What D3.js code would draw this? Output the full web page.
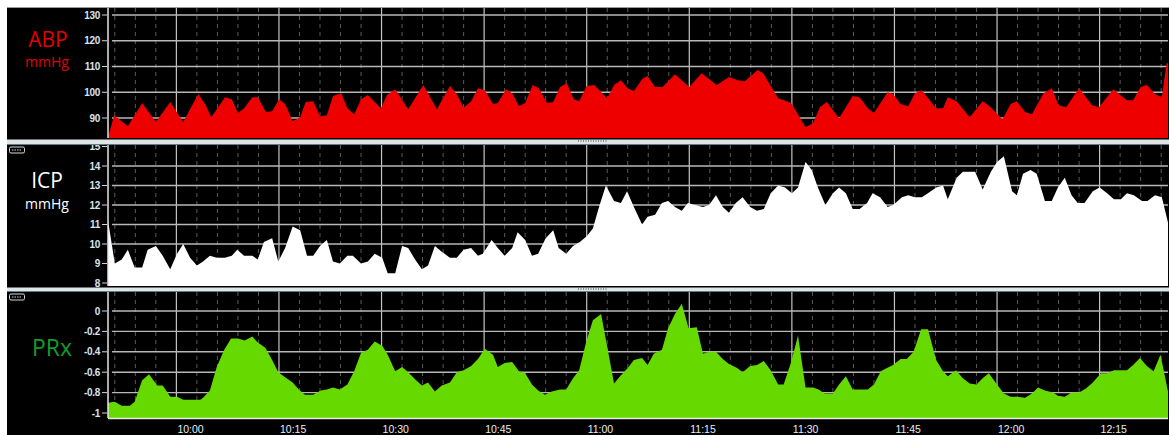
<!DOCTYPE html>
<html><head><meta charset="utf-8">
<script src="https://cdn.jsdelivr.net/npm/d3@7"></script>
<style>html,body{margin:0;padding:0;background:#fff;} svg{display:block;}</style>
</head><body>
<svg id="c" width="1169" height="435"></svg>
<script>
// ---- DATA (minutes after 09:50, value) ----
const startTime = "09:50", endTime = "12:25";
const timeTickLabels = ["10:00","10:15","10:30","10:45","11:00","11:15","11:30","11:45","12:00","12:15"];
const abpTicks = [90,100,110,120,130];
const abpGrid = [90,100,110,120,130];
const icpTicks = [8,9,10,11,12,13,14,15];
const icpGrid = [10,11,12,13,14];
const prxTicks = [-1,-0.8,-0.6,-0.4,-0.2,0];
const prxGrid = [-0.8,-0.6,-0.4,-0.2,0];

const abp = [[0,82.5],[0.9,91.1],[2.9,86.8],[5.0,95.8],[7.0,88.4],[9.1,96.2],[11.0,88.4],[13.2,99.3],[14.3,95],[15.1,90.3],
[17.1,98.1],[18.1,97.3],[19.0,91.9],[19.9,93.8],[21.1,98.1],[21.9,98.1],[23.1,92.3],[24.0,92.6],[25.0,97.3],[25.9,95.4],
[27.0,88.8],[28.1,90.3],[28.9,96.2],[30.0,96.5],[31.0,90.7],[32.0,91.1],[32.9,98.5],[34.1,99.6],[35.0,93.8],[36.0,91.5],
[37.0,97.3],[38.0,98.9],[39.9,93.8],[40.8,98.9],[42.0,101.2],[43.9,93.4],[46.1,102.8],[48.1,93.4],[50.0,102.4],[51.0,99.3],
[52.0,94],[53.1,96.5],[54.1,101.6],[55.1,100.8],[56.3,95.4],[57.0,95.8],[58.2,101.2],[59.1,99.6],[60.1,94.6],[61.0,95.8],
[62.1,102.8],[63.0,101.6],[64.2,95.8],[65.1,96.2],[66.1,102],[67.1,103.5],[68.1,97.3],[68.9,96.5],[70.0,102.4],[71.1,102.8],
[73.0,97.7],[74.0,102.8],[75.0,104.7],[76.0,101.6],[76.9,100.4],[78.1,105.1],[78.9,106.3],[80.0,102],[81.1,102],[82.9,107],
[85.0,102],[86.8,107.4],[89.0,102.8],[90.8,105.9],[92.1,104.7],[93.1,104.3],[95.0,108.6],[95.8,107.4],[98.0,97.7],[99.9,95.8],
[102.0,86.4],[103.1,88],[104.1,94.2],[105.1,96.2],[106.9,89.9],[108.9,98.5],[109.9,98.1],[111.1,93.8],[112.0,91.9],[114.0,100],
[114.8,99.3],[115.9,95.4],[117.0,94.6],[118.0,99.6],[119.0,100.8],[121.1,93.8],[122.1,93.8],[122.8,98.1],[124.1,96.5],[126.0,90.3],
[127.9,96.5],[128.9,94.6],[130.8,89.5],[132.0,95.4],[132.9,96.5],[134.1,92.3],[135.1,91.5],[136.8,99.6],[138.0,101.6],[139.0,95],
[140.1,94.2],[142.0,101.6],[143.9,95],[144.9,94.2],[147.0,101.2],[149.0,96.9],[149.9,96.9],[151.0,102],[151.9,102.8],[153.1,99.3],
[154.1,98.1],[154.8,111.3],[155,111.3]];

const icp = [[0,11.2],[1.0,9.0],[2.0,9.2],[2.9,9.7],[3.9,8.8],[5.0,8.8],[5.8,9.7],[7.0,9.9],[8.0,9.4],[9.1,8.7],
[10.1,9.5],[11.0,10.0],[12.0,9.3],[13.0,8.9],[13.9,9.1],[14.9,9.4],[15.9,9.3],[17.1,9.3],[18.1,9.4],[18.9,9.7],
[19.9,9.4],[21.1,9.4],[21.9,9.2],[22.8,10.1],[24.0,10.3],[24.9,9.1],[25.9,9.8],[27.0,10.9],[28.1,10.7],[29.1,9.4],
[30.0,9.4],[31.0,9.9],[32.0,10.2],[32.9,9.1],[33.9,9.0],[35.0,9.4],[35.8,9.4],[37.0,9.0],[38.0,9.1],[39.0,9.5],
[40.1,9.3],[40.9,8.5],[42.0,8.5],[43.0,9.9],[43.9,9.8],[44.9,9.2],[45.9,8.7],[46.8,8.9],[47.8,9.9],[48.8,9.6],
[50.0,9.3],[51.0,9.3],[52.0,9.7],[53.1,9.8],[54.1,9.4],[54.8,9.5],[56.1,10.2],[57.0,9.8],[58.0,9.4],[59.1,9.8],
[59.9,10.6],[61.0,10.2],[62.0,9.4],[62.9,9.5],[64.0,10.3],[65.1,10.7],[65.9,9.8],[67.0,9.5],[68.0,9.9],[69.0,10.1],
[70.0,10.4],[70.9,10.8],[71.8,11.9],[72.8,13.0],[74.0,12.2],[75.0,12.1],[75.9,12.7],[76.9,11.9],[78.1,11.0],[78.9,11.4],
[80.0,11.5],[81.0,12.1],[81.9,12.2],[82.9,11.9],[83.9,11.7],[84.8,12.1],[85.8,12.0],[87.0,11.9],[87.9,12.0],[88.9,12.5],
[89.9,11.9],[90.8,11.6],[91.8,12.1],[92.8,12.4],[93.9,11.9],[94.9,11.7],[95.9,11.8],[96.9,12.6],[98.0,13.0],[99.0,12.9],
[100.0,12.6],[100.9,12.9],[102.0,14.2],[102.9,13.8],[103.8,12.9],[104.9,12.0],[106.0,12.6],[106.9,12.9],[107.9,12.6],[108.9,11.8],
[109.9,11.8],[111.0,12.1],[111.8,12.6],[112.9,12.4],[114.0,11.9],[114.8,12.0],[116.1,12.4],[117.0,12.5],[118.0,12.4],[119.0,12.4],
[119.9,12.6],[121.1,12.9],[122.1,13.0],[122.8,12.3],[124.1,13.4],[125.0,13.7],[126.8,13.7],[127.9,12.8],[129.1,13.7],[130.0,14.2],
[131.0,14.5],[132.2,12.7],[132.9,12.5],[133.8,13.6],[134.9,13.8],[135.8,13.6],[137.0,12.2],[138.0,12.2],[138.9,12.9],[139.9,13.4],
[140.9,12.5],[141.8,12.1],[142.8,12.1],[144.0,12.7],[145.0,12.9],[146.1,12.6],[147.1,12.3],[148.1,12.3],[149.0,12.6],[150.0,12.5],
[151.2,12.2],[152.0,12.2],[153.1,12.5],[154.1,12.4],[155,11.1]];

const prx = [[0,-0.90],[1.0,-0.89],[2.0,-0.93],[3.2,-0.93],[3.9,-0.89],[5.0,-0.68],[6.0,-0.62],[7.2,-0.73],[8.0,-0.73],[9.1,-0.84],
[10.1,-0.84],[11.0,-0.87],[13.5,-0.87],[13.9,-0.85],[14.9,-0.78],[15.9,-0.55],[17.0,-0.38],[18.0,-0.27],[19.0,-0.27],[20.0,-0.29],
[21.1,-0.25],[21.9,-0.31],[23.0,-0.36],[24.0,-0.48],[24.9,-0.60],[25.9,-0.65],[27.0,-0.70],[27.9,-0.77],[28.8,-0.82],[30.0,-0.82],
[31.1,-0.78],[32.0,-0.77],[32.9,-0.75],[33.9,-0.77],[35.0,-0.72],[36.0,-0.59],[37.0,-0.41],[38.0,-0.38],[39.0,-0.30],[40.1,-0.34],
[40.9,-0.43],[42.0,-0.59],[43.0,-0.55],[43.9,-0.60],[44.9,-0.67],[45.9,-0.73],[46.8,-0.70],[47.8,-0.79],[48.8,-0.73],[50.0,-0.70],
[51.0,-0.60],[52.0,-0.58],[53.1,-0.54],[54.1,-0.47],[55.1,-0.37],[56.3,-0.43],[57.0,-0.55],[58.0,-0.51],[59.1,-0.50],[60.1,-0.59],
[61.0,-0.61],[62.0,-0.72],[62.9,-0.78],[63.9,-0.82],[64.9,-0.79],[66.1,-0.77],[67.0,-0.77],[68.0,-0.66],[68.9,-0.58],[69.9,-0.31],
[70.9,-0.09],[72.1,-0.03],[73.0,-0.35],[74.0,-0.71],[75.0,-0.63],[76.0,-0.56],[76.9,-0.48],[78.1,-0.46],[78.9,-0.53],[79.8,-0.42],
[81.0,-0.38],[81.9,-0.17],[82.9,-0.03],[83.9,0.07],[84.9,-0.17],[86.1,-0.16],[87.0,-0.42],[88.0,-0.40],[88.9,-0.40],[89.9,-0.47],
[90.8,-0.52],[92.0,-0.56],[92.8,-0.60],[93.9,-0.54],[94.9,-0.53],[95.9,-0.49],[96.9,-0.58],[98.0,-0.72],[98.8,-0.72],[99.9,-0.50],
[100.9,-0.24],[102.0,-0.75],[103.1,-0.75],[103.9,-0.77],[104.8,-0.81],[106.0,-0.81],[106.9,-0.72],[107.9,-0.64],[108.9,-0.77],[109.9,-0.77],
[111.1,-0.77],[112.0,-0.72],[113.0,-0.59],[113.9,-0.56],[114.8,-0.53],[115.9,-0.47],[116.8,-0.47],[117.8,-0.40],[118.9,-0.18],[119.9,-0.18],
[121.1,-0.48],[122.1,-0.59],[122.8,-0.64],[124.0,-0.58],[125.0,-0.66],[126.0,-0.71],[127.0,-0.72],[127.9,-0.66],[128.8,-0.61],[130.0,-0.72],
[131.0,-0.81],[132.0,-0.84],[132.9,-0.84],[134.1,-0.85],[135.1,-0.81],[136.0,-0.75],[137.0,-0.78],[138.2,-0.80],[138.9,-0.83],[139.9,-0.84],
[140.9,-0.80],[142.0,-0.80],[143.0,-0.76],[144.0,-0.70],[145.2,-0.61],[146.1,-0.61],[147.1,-0.58],[149.0,-0.58],[149.9,-0.53],[150.9,-0.46],
[151.9,-0.54],[152.9,-0.59],[153.9,-0.43],[155,-0.79]];

// ---- CHART ----
const W = 1169, H = 435;
const parse = d3.timeParse("%H:%M");
const t0 = parse(startTime), t1 = parse(endTime);
const toDate = m => new Date(t0.getTime() + m * 60000);
const x = d3.scaleTime().domain([t0, t1]).range([108, 1168]);

const svg = d3.select("#c");
svg.append("rect").attr("width", W).attr("height", H).attr("fill", "#ffffff");
svg.append("rect").attr("x", 7).attr("y", 7).attr("width", W - 7).attr("height", H - 7).attr("fill", "#000");

const panels = [
  {name:"abp", data:abp, ticks:abpTicks, grid:abpGrid, domain:[90,130], yr:[118,15], top:8, bottom:138,
   fill:"#ee0000", fmt:d=>String(d)},
  {name:"icp", data:icp, ticks:icpTicks, grid:icpGrid, domain:[8,14], yr:[283,166], top:145, bottom:286,
   fill:"#ffffff", fmt:d=>String(d)},
  {name:"prx", data:prx, ticks:prxTicks, grid:prxGrid, domain:[-1,0], yr:[413,311], top:292, bottom:418,
   fill:"#66d900", fmt:d=>String(d)}
];

const minorTimes = d3.timeMinute.every(3).range(t0, t1).filter(d => d.getMinutes() % 15 !== 0);
const majorTimes = timeTickLabels.map(s => parse(s));

panels.forEach((p, i) => {
  const y = d3.scaleLinear().domain(p.domain).range(p.yr);
  const g = svg.append("g");
  const clipId = "clip" + i;
  svg.append("clipPath").attr("id", clipId).append("rect")
    .attr("x", 108).attr("y", p.top).attr("width", 1168 - 108).attr("height", p.bottom - p.top);
  const gc = g.append("g").attr("clip-path", `url(#${clipId})`);
  // minor vertical dashed
  gc.selectAll("line.minor").data(minorTimes).join("line")
    .attr("x1", d => x(d)).attr("x2", d => x(d)).attr("y1", p.top).attr("y2", p.bottom)
    .attr("stroke", "#5a5a5a").attr("stroke-width", 1).attr("stroke-dasharray", "4,4");
  // major vertical
  gc.selectAll("line.major").data(majorTimes).join("line")
    .attr("x1", d => x(d)).attr("x2", d => x(d)).attr("y1", p.top).attr("y2", p.bottom)
    .attr("stroke", "#c4c4c4").attr("stroke-width", 1.2);
  // horizontal grid
  gc.selectAll("line.h").data(p.grid).join("line")
    .attr("x1", 112).attr("x2", 1168).attr("y1", d => y(d)).attr("y2", d => y(d))
    .attr("stroke", "#b8b8b8").attr("stroke-width", 1.4);
  // area
  const area = d3.area().x(d => x(toDate(d[0]))).y0(p.bottom).y1(d => y(d[1]));
  gc.append("path").datum(p.data).attr("d", area).attr("fill", p.fill);
  // y axis line
  g.append("line").attr("x1", 108).attr("x2", 108).attr("y1", p.top).attr("y2", p.bottom)
    .attr("stroke", "#e6e6e6").attr("stroke-width", 1.5);
  // ticks
  g.selectAll("line.t").data(p.ticks).join("line")
    .attr("x1", 102).attr("x2", 107).attr("y1", d => y(d)).attr("y2", d => y(d))
    .attr("stroke", "#cfd6de").attr("stroke-width", 1);
  g.selectAll("text.t").data(p.ticks).join("text")
    .attr("x", 100).attr("y", d => y(d)).attr("dy", "0.35em")
    .attr("text-anchor", "end").attr("fill", "#dbe3ec")
    .attr("font-family", "Liberation Sans, Arial, sans-serif").attr("font-weight", "bold")
    .attr("font-size", 10).attr("letter-spacing", -0.3).text(p.fmt);
});

// top border
svg.append("line").attr("x1", 7).attr("x2", W).attr("y1", 7.5).attr("y2", 7.5).attr("stroke", "#9a9a9a");
// separators
[[139.5, 144.5], [287.5, 291.5]].forEach(([a, b]) => {
  svg.append("rect").attr("x", 7).attr("y", a).attr("width", W - 7).attr("height", b - a).attr("fill", "#dfe4e7");
  svg.append("line").attr("x1", 7).attr("x2", W).attr("y1", b).attr("y2", b).attr("stroke", "#5e7f8a").attr("stroke-width", 1);
  svg.append("line").attr("x1", 578).attr("x2", 607).attr("y1", a + 1.5).attr("y2", a + 1.5)
    .attr("stroke", "#333").attr("stroke-dasharray", "1,1.5");
});
// small window icons
[147, 294].forEach(yy => {
  svg.append("rect").attr("x", 9.5).attr("y", yy).attr("width", 15).attr("height", 6).attr("rx", 1.5)
    .attr("fill", "none").attr("stroke", "#d8d8d8").attr("stroke-width", 1);
  svg.append("line").attr("x1", 12).attr("x2", 22).attr("y1", yy + 3).attr("y2", yy + 3)
    .attr("stroke", "#d8d8d8").attr("stroke-dasharray", "1.5,1");
});

// bottom x axis
svg.append("line").attr("x1", 108).attr("x2", 1168).attr("y1", 418.5).attr("y2", 418.5)
  .attr("stroke", "#ececec").attr("stroke-width", 1.5);
svg.selectAll("text.x").data(majorTimes).join("text")
  .attr("x", d => x(d) + 1).attr("y", 433)
  .attr("fill", "#e8eef4").attr("font-family", "Liberation Sans, Arial, sans-serif")
  .attr("font-size", 10.5).text((d, i) => timeTickLabels[i]);

// left labels
const lab = (txt, xx, yy, size, col) => svg.append("text").attr("x", xx).attr("y", yy)
  .attr("text-anchor", "middle").attr("fill", col).attr("font-family", "Open Sans, sans-serif")
  .attr("font-size", size).text(txt);
lab("ABP", 48, 47, 21, "#e00000");
lab("mmHg", 47, 67, 14, "#e00000");
lab("ICP", 47, 188, 21, "#ffffff");
lab("mmHg", 47, 209, 14, "#ffffff");
lab("PRx", 52, 356, 23, "#129c2a");
</script>
</body></html>
